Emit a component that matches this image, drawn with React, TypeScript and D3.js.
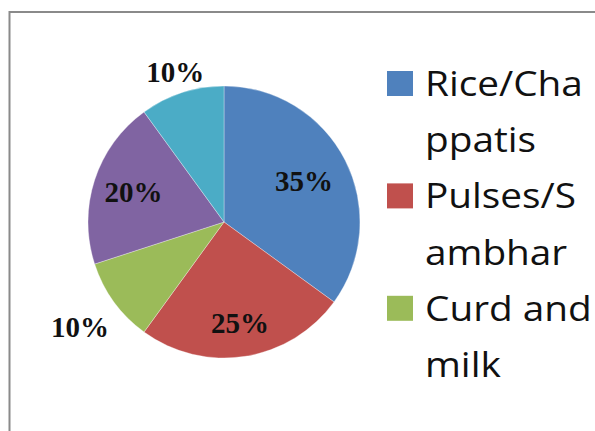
import React from "react";
import * as d3 from "d3";

// Share of each food group in the daily diet (percent)
const categories = ["Rice/Chappatis", "Pulses/Sambhar", "Curd and milk", "Vegetables", "Others"];
const shares = [35, 25, 10, 20, 10];
const colors = ["#4F81BD", "#C0504D", "#9BBB59", "#8064A2", "#4BACC6"];
// Legend shows the first three entries, wrapped the way the narrow legend box breaks them
const legendLines = [
  ["Rice/Cha", "ppatis"],
  ["Pulses/S", "ambhar"],
  ["Curd and", "milk"],
];

const W = 595;
const H = 431;
const cx = 224;
const cy = 222;
const R = 136;
// Label distance from centre, as a fraction of the radius (small slices sit outside)
const labelRadius = [0.66, 0.75, 1.31, 0.7, 1.16];

export default function App() {
  const pie = d3.pie<number>().sort(null).value((d) => d);
  const arcs = pie(shares);
  const arcGen = d3.arc<d3.PieArcDatum<number>>().innerRadius(0).outerRadius(R);

  const legendX = 387;
  const firstBaseline = 96;
  const lineStep = 56.2;

  return (
    <svg
      width={W}
      height={H}
      style={{ position: "absolute", left: 0, top: 0, background: "#fff" }}
    >
      <rect x={9.5} y={12} width={W + 20} height={H + 20} fill="#fff" stroke="#8a8a8a" strokeWidth={2} />
      <g transform={`translate(${cx},${cy})`}>
        {arcs.map((a, i) => (
          <path key={categories[i]} d={arcGen(a) || ""} fill={colors[i]} stroke="#ffffff" strokeOpacity={0.4} strokeWidth={0.8} />
        ))}
        {arcs.map((a, i) => {
          const mid = (a.startAngle + a.endAngle) / 2;
          const r = R * labelRadius[i];
          const x = Math.sin(mid) * r;
          const y = -Math.cos(mid) * r;
          return (
            <text
              key={"l" + i}
              x={x}
              y={y}
              dy="0.34em"
              textAnchor="middle"
              fontFamily="'Liberation Serif', 'Times New Roman', serif"
              fontWeight="bold"
              fontSize={29}
              fill="#111"
            >
              {`${shares[i]}%`}
            </text>
          );
        })}
      </g>
      {legendLines.map((lines, i) => {
        const baseline = firstBaseline + lineStep * 2 * i;
        return (
          <g key={"lg" + i}>
            <rect x={legendX} y={baseline - 25} width={26} height={25} fill={colors[i]} />
            {lines.map((t, j) => (
              <text
                key={j}
                transform={`translate(${legendX + 38},${baseline + lineStep * j}) scale(1.14,1)`}
                fontFamily="'Open Sans', 'Noto Sans', sans-serif"
                fontSize={34}
                fill="#111"
              >
                {t}
              </text>
            ))}
          </g>
        );
      })}
    </svg>
  );
}
